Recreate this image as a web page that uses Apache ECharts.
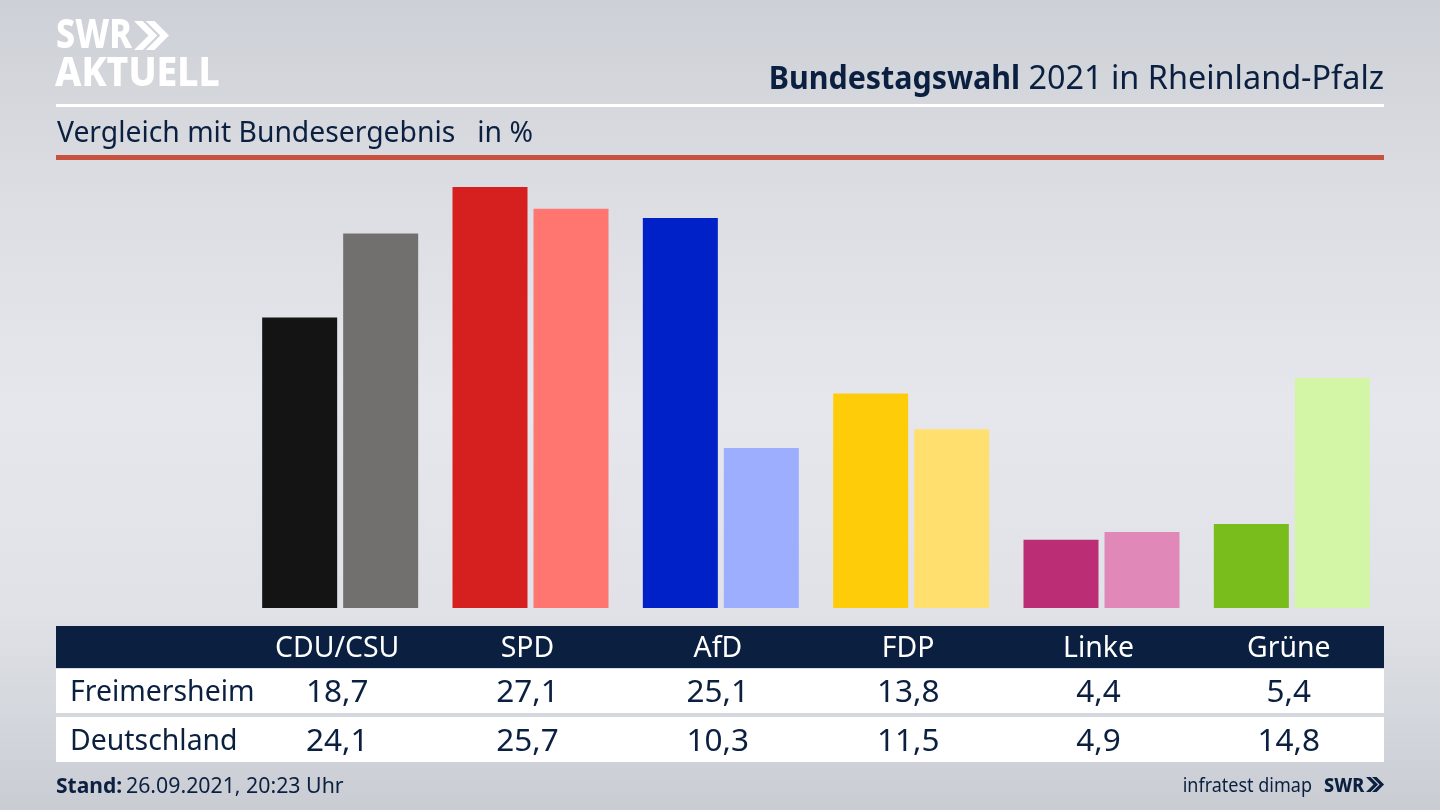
<!DOCTYPE html>
<html>
<head>
<meta charset="utf-8">
<title>Bundestagswahl 2021 in Rheinland-Pfalz</title>
<style>
html,body{margin:0;padding:0;background:#dfe1e6;}
#chart{width:1440px;height:810px;}
</style>
</head>
<body>
<div id="chart"></div>
<script src="https://cdn.jsdelivr.net/npm/echarts@6/dist/echarts.min.js"></script>
<script>
var parties = ['CDU/CSU', 'SPD', 'AfD', 'FDP', 'Linke', 'Grüne'];
var freimersheim = [18.7, 27.1, 25.1, 13.8, 4.4, 5.4];
var deutschland = [24.1, 25.7, 10.3, 11.5, 4.9, 14.8];
var colorsLocal = ['#141414', '#d61f1f', '#0020c8', '#ffcc0a', '#bb2d74', '#78bd1c'];
var colorsFederal = ['#72706f', '#ff7570', '#9eaeff', '#ffe06e', '#e088b7', '#d2f6a6'];

var FONT = '"Noto Sans", sans-serif';
var NAVY = '#0b2040';

function comma(v) { return v.toFixed(1).replace('.', ','); }

// the table columns sit 3px left of the bar pairs, hence the right padding
function tableAxis(data, offset, color, size) {
	return {
		type: 'category', data: data, position: 'bottom', offset: offset,
		axisLine: {show: false}, axisTick: {show: false},
		axisLabel: {margin: 0, interval: 0, color: color, fontFamily: FONT, fontSize: size, verticalAlign: 'middle', padding: [0, 6, 0, 0]}
	};
}

function rect(x, y, w, h, fill) {
	return {type: 'rect', shape: {x: x, y: y, width: w, height: h}, style: {fill: fill}, silent: true};
}

function label(x, y, text, size, color, weight, align, scaleX) {
	return {type: 'text', x: x, y: y, scaleX: scaleX || 1, silent: true, style: {
		text: text, fontFamily: FONT, fontSize: size, fill: color, fontWeight: weight || 'normal',
		align: align || 'left', verticalAlign: 'middle'
	}};
}

function chevrons(x, y, h, fill) {
	var w = h * 0.5, t = h * 0.3, out = [];
	[0, t * 1.35].forEach(function (dx) {
		out.push({type: 'polygon', silent: true, style: {fill: fill}, shape: {points: [
			[x + dx, y], [x + dx + t, y], [x + dx + t + w, y + h / 2], [x + dx + t, y + h], [x + dx, y + h], [x + dx + w, y + h / 2]
		]}});
	});
	return out;
}

var myChart = echarts.init(document.getElementById('chart'));
myChart.setOption({
	animation: false,
	backgroundColor: {
		type: 'linear', x: 0, y: 0, x2: 0, y2: 1,
		colorStops: [
			{offset: 0, color: '#cdd0d6'},
			{offset: 0.25, color: '#dcdee3'},
			{offset: 0.5, color: '#e6e7ec'},
			{offset: 0.75, color: '#e0e2e7'},
			{offset: 1, color: '#c9cdd3'}
		]
	},
	grid: {left: 245, right: 53, top: 173, height: 435},
	xAxis: [
		tableAxis(parties, 41, '#ffffff', 28.4),
		tableAxis(freimersheim.map(comma), 85.5, NAVY, 31.5),
		tableAxis(deutschland.map(comma), 134.5, NAVY, 31.5)
	],
	yAxis: {type: 'value', min: 0, max: 28, show: false},
	series: [
		{
			type: 'bar', name: 'Freimersheim', barWidth: 75, barGap: '8%', data: freimersheim,
			itemStyle: {color: function (p) { return colorsLocal[p.dataIndex]; }}
		},
		{
			type: 'bar', name: 'Deutschland', barWidth: 75, data: deutschland,
			itemStyle: {color: function (p) { return colorsFederal[p.dataIndex]; }}
		}
	],
	graphic: {elements: [
		rect(56, 104, 1328, 3, '#ffffff'),
		rect(56, 155, 1328, 5, '#c8503f'),
		rect(56, 626, 1328, 42, NAVY),
		rect(56, 669, 1328, 44, '#ffffff'),
		rect(56, 717, 1328, 45, '#ffffff'),
		label(56, 36, 'SWR', 41, '#ffffff', 800, 'left', 0.83),
		label(55, 74, 'AKTUELL', 41, '#ffffff', 800, 'left', 0.91),
		label(1020, 80, 'Bundestagswahl', 32, NAVY, 'bold', 'right', 0.95),
		label(1384, 80, '2021 in Rheinland-Pfalz', 32.4, NAVY, 'normal', 'right'),
		label(57, 134, 'Vergleich mit Bundesergebnis   in %', 28.3, NAVY),
		label(70, 693, 'Freimersheim', 28.4, NAVY),
		label(70, 742, 'Deutschland', 28.4, NAVY),
		label(56, 787, 'Stand:', 21, NAVY, 'bold'),
		label(126, 787, '26.09.2021, 20:23 Uhr', 21.3, NAVY),
		label(1312, 786, 'infratest dimap', 20, NAVY, 'normal', 'right', 0.9),
		label(1324, 786, 'SWR', 20, NAVY, 800, 'left', 0.9)
	].concat(chevrons(134, 21, 29, '#ffffff'), chevrons(1366, 777, 15, NAVY))}
});
</script>
</body>
</html>
